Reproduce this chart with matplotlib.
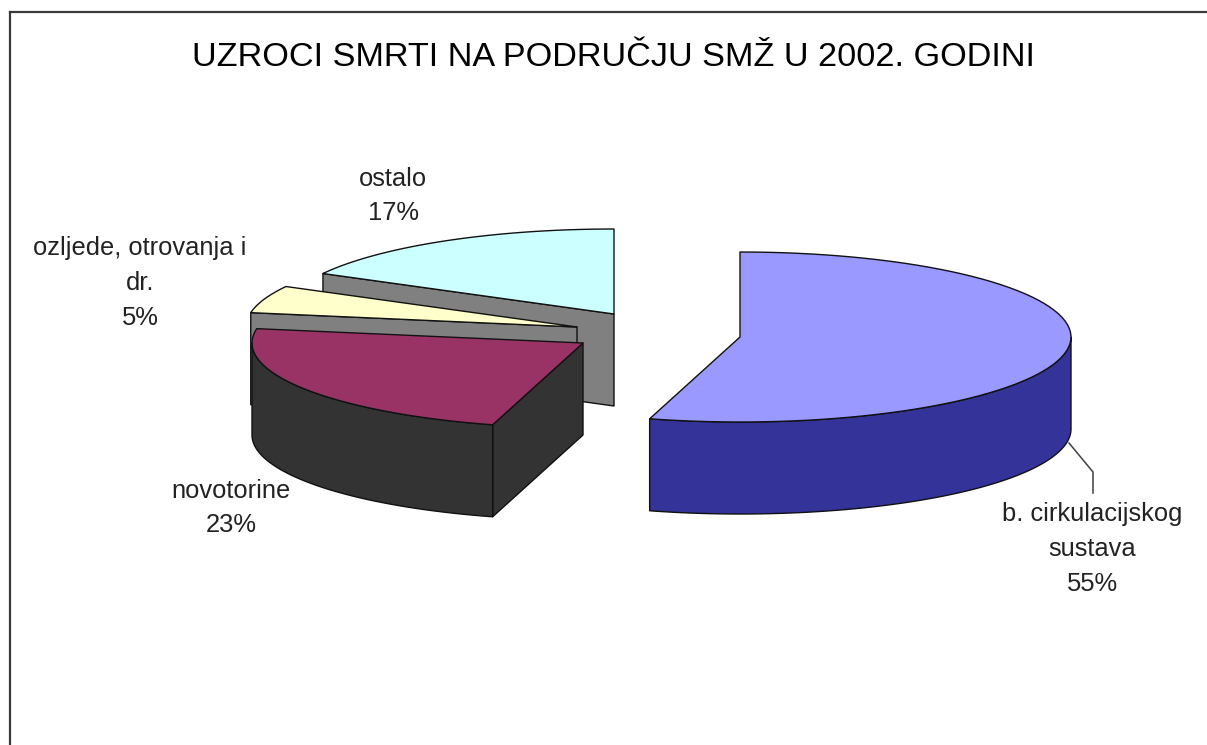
import numpy as np
import matplotlib
matplotlib.use("Agg")
import matplotlib.pyplot as plt
from matplotlib.patches import Polygon

W, H = 1207, 745
plt.rcParams['font.family'] = ['Liberation Sans', 'DejaVu Sans']

title = "UZROCI SMRTI NA PODRUČJU SMŽ U 2002. GODINI"
categories = ["b. cirkulacijskog\nsustava", "novotorine", "ozljede, otrovanja i\ndr.", "ostalo"]
shares = [54.4, 23.3, 5.2, 17.1]
percent_labels = ["55%", "23%", "5%", "17%"]

top_colors = ["#9999FF", "#993366", "#FFFFCC", "#CCFFFF"]
side_colors = ["#333399", "#333333", "#808080", "#808080"]
apexes = [(740, 337), (583, 343), (577, 327), (614, 314)]
label_pos = [(1092, 549), (231, 508), (140, 283), (393, 196)]
RX, RY, DEPTH = 331, 85, 92

fig = plt.figure(figsize=(W / 100, H / 100), dpi=100, facecolor="white")
ax = fig.add_axes([0, 0, 1, 1])
ax.set_xlim(0, W)
ax.set_ylim(H, 0)
ax.axis("off")


def rim(cx, cy, a, b):
    t = np.radians(np.linspace(a, b, 80))
    return np.column_stack([cx + RX * np.sin(t), cy - RY * np.cos(t)])


def face(pts, color, z):
    ax.add_patch(Polygon(pts, closed=True, facecolor=color, edgecolor="#111111",
                         linewidth=1.0, joinstyle="round", zorder=z))


edges = np.concatenate([[0], np.cumsum(shares)]) / np.sum(shares) * 360
down = np.array([0, DEPTH])
for i in range(len(shares) - 1, -1, -1):
    a, b = edges[i], edges[i + 1]
    cx, cy = apexes[i]
    z = 10 + (len(shares) - i) * 3
    apex = np.array([[cx, cy]])
    start = rim(cx, cy, a, a)
    cut = np.vstack([apex, start, start + down, apex + down])
    if a > 0:
        face(cut, side_colors[i], z)
    lo, hi = max(a, 90), min(b, 270)
    if hi > lo:
        r = rim(cx, cy, lo, hi)
        face(np.vstack([r, (r + down)[::-1]]), side_colors[i], z + 1)
    face(np.vstack([apex, rim(cx, cy, a, b)]), top_colors[i], z + 2)

ax.plot([1069, 1093, 1093], [443, 472, 493], color="#404040", lw=1.1, zorder=30)

ax.plot([10, 10], [H + 5, 12], color="#3a3a3a", lw=1.6, clip_on=False, zorder=40)
ax.plot([10, W + 5], [12, 12], color="#3a3a3a", lw=1.6, zorder=40)

ax.text(613, 58, title, fontsize=24.7, ha="center", va="center", color="black", zorder=50)
for cat, pct, (x, y) in zip(categories, percent_labels, label_pos):
    ax.text(x, y, f"{cat}\n{pct}", fontsize=18.4, ha="center", va="center",
            color="#222222", linespacing=1.56, zorder=50)

fig.savefig("out.png", dpi=100, facecolor="white")
